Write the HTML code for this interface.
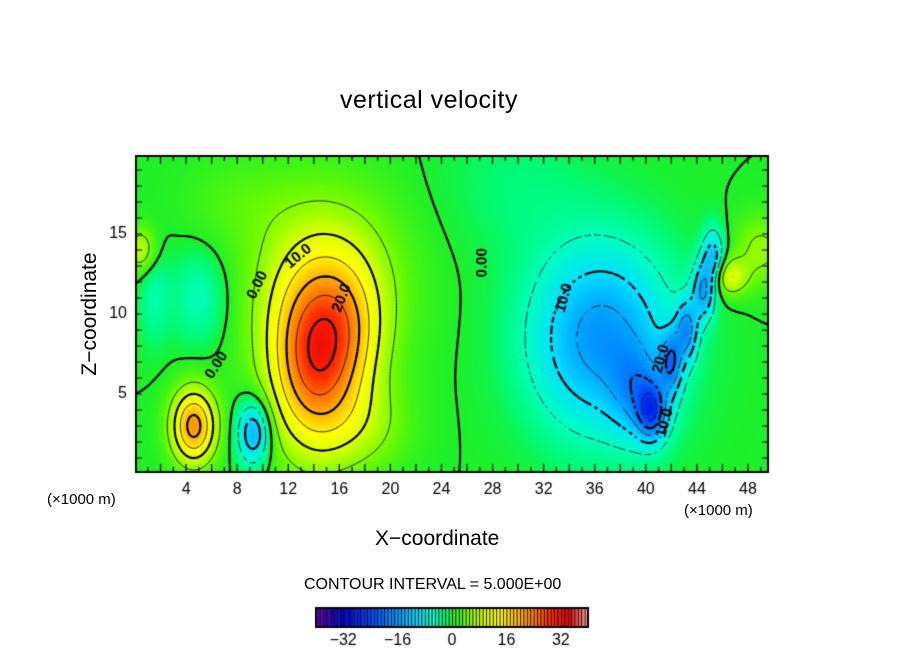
<!DOCTYPE html>
<html><head><meta charset="utf-8"><style>
body{margin:0;background:#fff;width:904px;height:654px;overflow:hidden;position:relative;font-family:"Liberation Sans",sans-serif}
.t{position:absolute;color:#000;white-space:nowrap}
canvas{position:absolute;left:0;top:0}
</style></head><body>
<canvas id="c" width="904" height="654"></canvas>
<div class="t" style="left:340px;top:86px;font-size:25px;letter-spacing:0.5px">vertical velocity</div>
<div class="t" style="left:25px;top:302px;font-size:21px;transform:rotate(-90deg);transform-origin:center;width:130px;text-align:center">Z−coordinate</div>
<div class="t" style="left:375px;top:527px;font-size:21px">X−coordinate</div>
<div class="t" style="left:47px;top:491px;font-size:15px">(×1000 m)</div>
<div class="t" style="left:684px;top:502px;font-size:15px">(×1000 m)</div>
<div class="t" style="left:304px;top:576px;font-size:16px">CONTOUR INTERVAL = 5.000E+00</div>
<script>
// Field model: gaussian components (x km, z km, amplitude, sx, sz)
const blobX=[14,15,4.6,9.3,0.5,36.5,39.5,40.5,42,43.2,44.5,45.3,46.5,49,5,1.5,18,8,30,16.8];
const blobZ=[7,12,3,2.6,14,8.5,5,3.8,7,9,11.5,13.5,12.3,14,11,11,3,17,18,9];
const blobA=[24,9,22,-15,8,-17,-10,-16,-14,-14,-14,-12,10,6,-5,-4,5,2,-2,8];
const blobSX=[2.4,4,1.2,0.9,0.8,3.8,1.5,0.8,0.6,0.6,0.6,0.6,1,1.5,1.5,0.8,2.5,3,4,2];
const blobSZ=[3.8,4,1.6,1.4,1,4,2,1.2,1.3,1.3,1.3,1.3,0.8,1.5,2,2,2,2,3,3];
const xTicks=[4,8,12,16,20,24,28,32,36,40,44,48];
const zTicks=[5,10,15];
const cbTicks=[-32,-16,0,16,32];
const contourLabels=[[0.00,9.6,11.8,-1.1],[10.0,12.8,13.6,-0.7],[20.0,16.2,11.0,-1.2],[0.00,6.4,6.8,-1.0],[0.00,27.2,13.2,-1.57],[10.0,33.6,11.0,-1.3],[20.0,41.2,7.2,-1.3],[10.0,41.5,3.2,-1.3]];
const X0=135,XS=12.77,Z0=474,ZS=16,L=136,R=768,T=156,B=472;
const sx=x=>X0+x*XS, sz=z=>Z0-z*ZS;
function f(x,z){let v=0;for(let i=0;i<blobX.length;i++){const dx=(x-blobX[i])/blobSX[i],dz=(z-blobZ[i])/blobSZ[i];v+=blobA[i]*Math.exp(-0.5*(dx*dx+dz*dz));}return v;}
const stops=[[-40,[96,0,160]],[-32,[0,0,210]],[-24,[0,70,255]],[-16,[0,160,255]],[-10,[0,225,255]],[-5,[0,255,190]],[-2,[0,250,120]],[0,[30,240,40]],[4,[110,250,0]],[9,[210,255,0]],[14,[255,255,0]],[19,[255,190,0]],[24,[255,120,0]],[29,[255,40,0]],[34,[230,0,0]],[40,[255,160,160]]];
function col(v){if(v<=stops[0][0])return stops[0][1];for(let i=1;i<stops.length;i++){if(v<=stops[i][0]){const a=stops[i-1],b=stops[i],t=(v-a[0])/(b[0]-a[0]);return a[1].map((c,k)=>Math.round(c+(b[1][k]-c)*t));}}return stops[stops.length-1][1];}
const cv=document.getElementById('c'),ctx=cv.getContext('2d');
const W=R-L,H=B-T,img=ctx.createImageData(W,H);
for(let j=0;j<H;j++)for(let i=0;i<W;i++){const x=(L+i+0.5-X0)/XS,z=(Z0-(T+j+0.5))/ZS;const c=col(f(x,z));const p=(j*W+i)*4;img.data[p]=c[0];img.data[p+1]=c[1];img.data[p+2]=c[2];img.data[p+3]=255;}
ctx.putImageData(img,L,T);
// contours via marching squares
const gx0=(L-X0)/XS,gx1=(R-X0)/XS,gz0=(Z0-B)/ZS,gz1=(Z0-T)/ZS,N=200,M=110;
const G=[];for(let j=0;j<=M;j++){G[j]=[];for(let i=0;i<=N;i++)G[j][i]=f(gx0+(gx1-gx0)*i/N,gz0+(gz1-gz0)*j/M);}
ctx.save();ctx.beginPath();ctx.rect(L,T,W,H);ctx.clip();
for(let lev=-35;lev<=35;lev+=5){
 ctx.beginPath();
 for(let j=0;j<M;j++)for(let i=0;i<N;i++){
  const v=[G[j][i],G[j][i+1],G[j+1][i+1],G[j+1][i]];
  const P=[[i,j],[i+1,j],[i+1,j+1],[i,j+1]];const pts=[];
  for(let e=0;e<4;e++){const a=v[e],b=v[(e+1)%4];if((a<lev)!==(b<lev)){const t=(lev-a)/(b-a);const pa=P[e],pb=P[(e+1)%4];pts.push([pa[0]+(pb[0]-pa[0])*t,pa[1]+(pb[1]-pa[1])*t]);}}
  for(let k=0;k+1<pts.length;k+=2){const c=q=>[sx(gx0+(gx1-gx0)*q[0]/N),sz(gz0+(gz1-gz0)*q[1]/M)];const a=c(pts[k]),b=c(pts[k+1]);
   if(lev<0){const mx=(a[0]+b[0])/2,my=(a[1]+b[1])/2;if(Math.floor((mx+my)/5)%2!==0&&Math.floor((mx-my)/5)%2!==0)continue;}
   ctx.moveTo(a[0],a[1]);ctx.lineTo(b[0],b[1]);}
 }
 ctx.strokeStyle='#000';ctx.lineWidth=(lev%10===0)?2.2:0.8;ctx.stroke();
}
ctx.restore();
ctx.font='bold 15px "Liberation Sans",sans-serif';ctx.fillStyle='#000';ctx.textAlign='center';ctx.textBaseline='middle';
contourLabels.forEach(l=>{ctx.save();ctx.translate(sx(l[1]),sz(l[2]));ctx.rotate(l[3]);ctx.fillText(l[0].toFixed(l[0]===0?2:1),0,0);ctx.restore();});
// frame and ticks
ctx.strokeStyle='#000';ctx.lineWidth=2;ctx.strokeRect(L,T,W,H);ctx.lineWidth=1.2;
for(let x=1;x<50;x++){const px=sx(x),len=x%2===0?8:5;ctx.beginPath();ctx.moveTo(px,B);ctx.lineTo(px,B-len);ctx.moveTo(px,T);ctx.lineTo(px,T+len);ctx.stroke();}
for(let z=1;z<20;z++){const py=sz(z);ctx.beginPath();ctx.moveTo(L,py);ctx.lineTo(L+6,py);ctx.moveTo(R,py);ctx.lineTo(R-6,py);ctx.stroke();}
ctx.font='16px "Liberation Sans",sans-serif';ctx.textBaseline='top';
xTicks.forEach(x=>ctx.fillText(String(x),sx(x),482));
ctx.textAlign='right';ctx.textBaseline='middle';
zTicks.forEach(z=>ctx.fillText(String(z),127,sz(z)));
// colorbar
const CL=316,CR=588,CT=608,CB=627,cx=v=>CL+(v+40)/80*(CR-CL);
for(let v=-40;v<40;v++){const c=col(v+0.5);ctx.fillStyle='rgb('+c+')';ctx.fillRect(cx(v),CT,cx(v+1)-cx(v),CB-CT);ctx.fillStyle='#000';ctx.fillRect(cx(v),CT,0.9,CB-CT);}
ctx.lineWidth=2;ctx.strokeRect(CL,CT,CR-CL,CB-CT);
ctx.fillStyle='#000';ctx.textAlign='center';ctx.textBaseline='top';
cbTicks.forEach(t=>ctx.fillText(t<0?'−'+(-t):String(t),cx(t),633));
</script>
</body></html>
